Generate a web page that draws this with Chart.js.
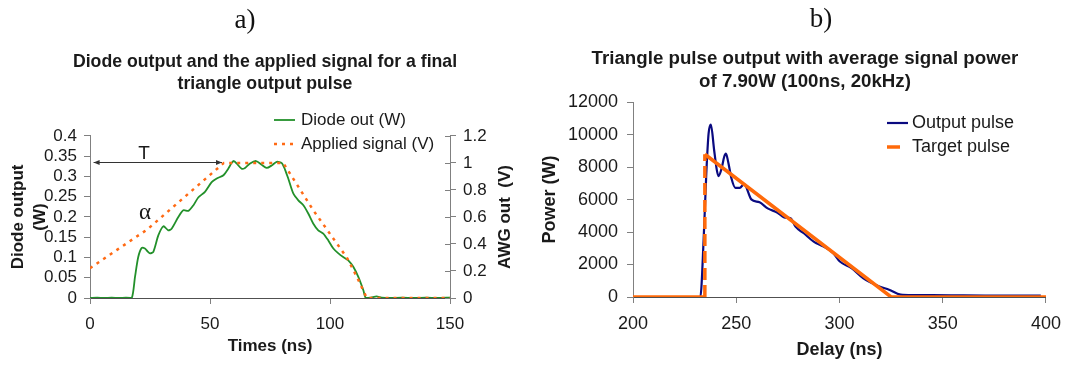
<!DOCTYPE html>
<html>
<head>
<meta charset="utf-8">
<title>Triangle pulse shaping</title>
<script src="https://cdn.jsdelivr.net/npm/chart.js@4.4.1/dist/chart.umd.min.js"></script>
<style>
  html, body { margin: 0; padding: 0; background: #fff; }
  body { width: 1078px; height: 365px; position: relative; overflow: hidden; }
  canvas { position: absolute; top: 0; }
  #chartA { left: 0; }
  #chartB { left: 535px; }
  .tag {
    position: absolute; width: 40px; text-align: center; z-index: 2;
    font-family: 'Liberation Serif', 'DejaVu Serif', serif; font-size: 27px; color: #111;
  }
</style>
</head>
<body>
<div class="tag" style="left:225px; top:4px;">a)</div>
<div class="tag" style="left:801px; top:3px;">b)</div>
<canvas id="chartA" width="530" height="365"></canvas>
<canvas id="chartB" width="536" height="365"></canvas>
<script>
// ---- a) diode output and applied AWG signal ----
const diodeTime = [0, 3, 6, 9, 12, 15, 17.4, 18.75, 20.1, 21.5, 22.9, 24, 25, 26.4, 28.5, 30.6, 32.6, 34,
  36.8, 38.9, 41, 43.1, 45.1, 47.9, 50.7, 52.8, 55.6, 57.6, 59, 60, 61.1, 63.2, 64.6, 66.7, 69.2, 71.5,
  73.6, 75.7, 77.8, 79.9, 81.25, 82.6, 84.7, 86.8, 88.9, 91, 93, 95.1, 97.2, 99.3, 101.4, 103.5, 105.5,
  107.6, 109.7, 111.8, 113.9, 114.9, 117, 119.4, 121.5, 125, 130, 135, 140, 145, 150];
const diodeOut = [0, 0.001, 0, 0.001, 0, 0.001, 0, 0.052, 0.101, 0.123, 0.122, 0.115, 0.11, 0.114, 0.155,
  0.177, 0.167, 0.171, 0.2, 0.2165, 0.215, 0.229, 0.248, 0.262, 0.286, 0.295, 0.303, 0.319, 0.333, 0.338,
  0.332, 0.319, 0.321, 0.332, 0.338, 0.329, 0.321, 0.327, 0.336, 0.333, 0.317, 0.295, 0.258, 0.241, 0.229,
  0.208, 0.184, 0.167, 0.159, 0.142, 0.122, 0.11, 0.101, 0.093, 0.077, 0.052, 0.019, 0, 0.001, 0.004,
  0.001, 0, 0.001, 0, 0.001, 0, 0.001];
const appliedTime = [0, 11.4, 23.9, 43.3, 55.8, 80.5, 93, 107, 111.1, 115.3, 150];
const appliedSignal = [0.22, 0.358, 0.508, 0.808, 1.0, 1.0, 0.65, 0.30, 0.16, 0, 0];

// period marker "T" and slope marker
const periodStart = 1.5, periodEnd = 55, periodLevel = 0.335;
const periodLabel = { x: 22.5, y: 0.357 };
const slopeLabel = { x: 22.9, y: 0.209 };

// ---- b) output vs target triangle pulse ----
const outputDelay = [200, 225, 232.6, 234.2, 235.5, 236.6, 237.7, 239.3, 240.6, 241.4, 242.9, 244.2, 245,
  246.1, 247.7, 249.6, 251.7, 253.8, 257.3, 261.3, 265.2, 270, 273.2, 276.3, 278.7, 282.7, 287.5, 292.3,
  297, 300.2, 305.8, 311.4, 319.3, 324, 329.6, 335, 345, 360, 375, 390, 397.5];
const outputPower = [0, 0, 0, 3515, 7607, 10061, 10613, 9037, 7810, 7442, 7914, 8650, 8834,
  8319, 7300, 6724, 6724, 6950, 6012, 5828, 5460, 5190, 4908, 4847, 4331, 3926, 3411, 3104,
  2699, 2184, 1779, 1166, 650, 448, 141, 110, 120, 100, 90, 80, 80];
const targetDelay = [200, 234.8, 234.8, 325, 400];
const targetPower = [0, 0, 8790, 0, 0];

const toPoints = (xs, ys) => xs.map((x, i) => ({ x, y: ys[i] }));

const FONT = "'Liberation Sans', Arial, sans-serif";
const INK = '#1a1a1a';
const AXIS_GREY = '#808080';

// legend drawn where the chart wants it, partly over the plot
const floatingLegend = {
  id: 'floatingLegend',
  afterDraw(chart, args, opts) {
    const { ctx } = chart;
    ctx.save();
    ctx.font = opts.font;
    ctx.textBaseline = 'middle';
    ctx.textAlign = 'left';
    chart.data.datasets.forEach((ds, i) => {
      const y = opts.y + i * opts.rowGap;
      ctx.beginPath();
      ctx.setLineDash(ds.legendDash || []);
      ctx.strokeStyle = ds.borderColor;
      ctx.lineWidth = ds.borderWidth;
      ctx.moveTo(opts.x, y);
      ctx.lineTo(opts.x + opts.sampleWidth, y);
      ctx.stroke();
      ctx.setLineDash([]);
      ctx.fillStyle = INK;
      ctx.fillText(ds.label, opts.x + opts.sampleWidth + opts.gap, y);
    });
    ctx.restore();
  }
};

function arrowHead(ctx, x, y, dir) {
  ctx.beginPath();
  ctx.moveTo(x, y);
  ctx.lineTo(x - dir * 6, y - 2.5);
  ctx.lineTo(x - dir * 6, y + 2.5);
  ctx.closePath();
  ctx.fill();
}

const panelAMarks = {
  id: 'panelAMarks',
  afterDraw(chart) {
    const { ctx, chartArea, scales: { x, y, y1 } } = chart;
    ctx.save();

    // period arrow
    const ay = Math.round(y.getPixelForValue(periodLevel)) + 0.5;
    const ax0 = x.getPixelForValue(periodStart);
    const ax1 = x.getPixelForValue(periodEnd);
    ctx.strokeStyle = '#333';
    ctx.fillStyle = '#333';
    ctx.lineWidth = 1;
    ctx.beginPath();
    ctx.moveTo(ax0, ay);
    ctx.lineTo(ax1, ay);
    ctx.stroke();
    arrowHead(ctx, ax0, ay, -1);
    arrowHead(ctx, ax1, ay, 1);

    ctx.fillStyle = INK;
    ctx.textAlign = 'center';
    ctx.textBaseline = 'middle';
    ctx.font = '19px ' + FONT;
    ctx.fillText('T', x.getPixelForValue(periodLabel.x), y.getPixelForValue(periodLabel.y));
    ctx.font = "23px 'Liberation Serif', serif";
    ctx.fillText('\u03b1', x.getPixelForValue(slopeLabel.x), y.getPixelForValue(slopeLabel.y));

    // AWG axis ticks cross the axis line
    ctx.strokeStyle = AXIS_GREY;
    ctx.beginPath();
    y1.ticks.forEach(t => {
      const py = Math.round(y1.getPixelForValue(t.value)) + 0.5;
      ctx.moveTo(chartArea.right - 5, py);
      ctx.lineTo(chartArea.right, py);
    });
    ctx.stroke();

    // AWG axis title, reading upwards
    ctx.save();
    ctx.translate(y1.right - 25, (chartArea.top + chartArea.bottom) / 2);
    ctx.rotate(-Math.PI / 2);
    ctx.font = 'bold 17px ' + FONT;
    ctx.fillStyle = INK;
    ctx.fillText('AWG out  (V)', 0, 0);
    ctx.restore();

    ctx.restore();
  }
};

const axisGrid = { drawOnChartArea: false, drawTicks: true, tickLength: 6, color: AXIS_GREY };

new Chart(document.getElementById('chartA'), {
  type: 'line',
  data: {
    datasets: [
      {
        label: 'Diode out (W)',
        data: toPoints(diodeTime, diodeOut),
        yAxisID: 'y',
        borderColor: '#22902a',
        borderWidth: 1.8,
        tension: 0.25,
        pointRadius: 0,
        order: 2
      },
      {
        label: 'Applied signal (V)',
        data: toPoints(appliedTime, appliedSignal),
        yAxisID: 'y1',
        borderColor: '#ff6a14',
        borderWidth: 2.5,
        borderDash: [3, 5],
        legendDash: [3, 5],
        tension: 0,
        pointRadius: 0,
        order: 1
      }
    ]
  },
  options: {
    responsive: false,
    animation: false,
    layout: { padding: 0 },
    scales: {
      x: {
        type: 'linear', min: 0, max: 150,
        afterFit: s => { s.height = 67; },
        grid: axisGrid,
        border: { color: '#505050' },
        ticks: { stepSize: 50, padding: 10, color: INK, font: { family: FONT, size: 17 } },
        title: { display: true, text: 'Times (ns)', color: INK, padding: { top: 0, bottom: 8 },
          font: { family: FONT, size: 17, weight: 'bold', lineHeight: 1.27 } }
      },
      y: {
        position: 'left', min: 0, max: 0.4,
        afterFit: s => { s.width = 90; },
        grid: axisGrid,
        border: { color: AXIS_GREY },
        ticks: { stepSize: 0.05, autoSkip: false, padding: 7, color: INK, font: { family: FONT, size: 17 },
          callback: v => String(+v.toFixed(2)) },
        title: { display: true, text: ['Diode output', '(W)'], color: INK, padding: { top: 7, bottom: 0 },
          font: { family: FONT, size: 17, weight: 'bold', lineHeight: 1.32 } }
      },
      y1: {
        position: 'right', min: 0, max: 1.2,
        afterFit: s => { s.width = 80; },
        grid: axisGrid,
        border: { color: AXIS_GREY },
        ticks: { stepSize: 0.2, autoSkip: false, padding: 7, color: INK, font: { family: FONT, size: 17 },
          callback: v => String(+v.toFixed(1)) }
      }
    },
    plugins: {
      legend: { display: false },
      tooltip: { enabled: false },
      title: {
        display: true,
        text: ['Diode output and the applied signal for a final', 'triangle output pulse'],
        color: INK,
        font: { family: FONT, size: 17.7, weight: 'bold', lineHeight: 1.24 },
        padding: { top: 51, bottom: 41 }
      },
      floatingLegend: { x: 274, y: 120, rowGap: 24, sampleWidth: 21, gap: 6, font: '17px ' + FONT }
    }
  },
  plugins: [floatingLegend, panelAMarks]
});

new Chart(document.getElementById('chartB'), {
  type: 'line',
  data: {
    datasets: [
      {
        label: 'Output pulse',
        data: toPoints(outputDelay, outputPower),
        borderColor: '#0a0a80',
        borderWidth: 2.2,
        cubicInterpolationMode: 'monotone',
        pointRadius: 0,
        order: 2
      },
      {
        label: 'Target pulse',
        data: toPoints(targetDelay, targetPower),
        borderColor: '#ff6a0a',
        borderWidth: 3.5,
        legendDash: [13, 20],
        pointRadius: 0,
        tension: 0,
        // the vertical rising edge shows as a dashed stroke
        segment: { borderDash: c => (c.p0.parsed.x === c.p1.parsed.x ? [12, 5] : undefined) },
        order: 1
      }
    ]
  },
  options: {
    responsive: false,
    animation: false,
    layout: { autoPadding: false, padding: { left: 24, right: 20 } },
    scales: {
      x: {
        type: 'linear', min: 200, max: 400,
        afterFit: s => { s.height = 68; },
        grid: axisGrid,
        border: { color: '#505050' },
        ticks: { stepSize: 50, padding: 10, color: INK, font: { family: FONT, size: 18 } },
        title: { display: true, text: 'Delay (ns)', color: INK, padding: { top: 0, bottom: 4 },
          font: { family: FONT, size: 18, weight: 'bold', lineHeight: 1.2 } }
      },
      y: {
        min: 0, max: 12000,
        afterFit: s => { s.width = 74; },
        grid: axisGrid,
        border: { color: AXIS_GREY },
        ticks: { stepSize: 2000, autoSkip: false, padding: 9, color: INK, font: { family: FONT, size: 18 },
          callback: v => String(v) },
        title: { display: true, text: 'Power (W)', color: INK, padding: { top: -20, bottom: 0 },
          font: { family: FONT, size: 18, weight: 'bold', lineHeight: 1.2 } }
      }
    },
    plugins: {
      legend: { display: false },
      tooltip: { enabled: false },
      title: {
        display: true,
        text: ['Triangle pulse output with average signal power', 'of 7.90W (100ns, 20kHz)'],
        color: INK,
        font: { family: FONT, size: 18.7, weight: 'bold', lineHeight: 1.26 },
        padding: { top: 47, bottom: 8 }
      },
      floatingLegend: { x: 352, y: 123, rowGap: 24, sampleWidth: 21, gap: 4, font: '18px ' + FONT }
    }
  },
  plugins: [floatingLegend]
});
</script>
</body>
</html>
